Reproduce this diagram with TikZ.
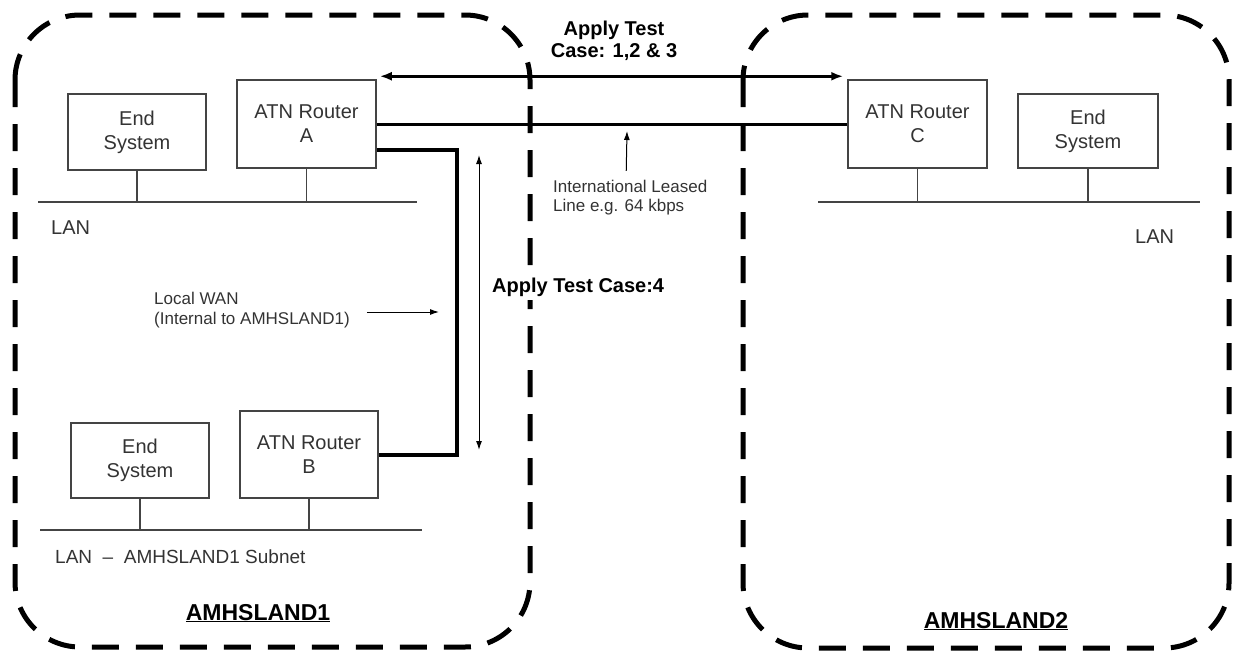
\documentclass[tikz,border=0pt]{standalone}
\usepackage{fontspec}
\setmainfont{Liberation Sans}
\usetikzlibrary{arrows.meta}
\definecolor{txtgray}{HTML}{333333}
\definecolor{boxgray}{HTML}{444444}
\begin{document}
\begin{tikzpicture}[x=1pt,y=-1pt,
  box/.style={draw=boxgray, line width=1.5pt, text=txtgray, font=\fontsize{20}{24}\selectfont, align=center, inner sep=0pt},
  region/.style={draw=black, line width=5pt, dash pattern=on 27pt off 17pt, rounded corners=65pt},
  lan/.style={draw=boxgray, line width=1.5pt},
  lbl/.style={text=txtgray, align=left, inner sep=0pt},
  blbl/.style={text=black, align=center, inner sep=0pt, font=\fontsize{20}{22}\selectfont\bfseries},
  dblarr/.style={draw=black, line width=3pt, {Latex[length=12pt,width=9pt]}-{Latex[length=12pt,width=9pt]}},
  thinarr/.style={draw=black, line width=1pt, -{Latex[length=9pt,width=6pt]}},
  thindbl/.style={draw=black, line width=1pt, {Latex[length=9pt,width=6pt]}-{Latex[length=9pt,width=6pt]}},
  wan/.style={draw=black, line width=4pt, line join=miter},
  leased/.style={draw=black, line width=3pt}
]
\useasboundingbox (0,0) rectangle (1233,656);
% regions
\draw[region] (15,15) rectangle (530,647);
\draw[region] (743,15) rectangle (1229,648);

% boxes
\node[box, minimum width=138pt, minimum height=76pt] (esA) at (137,132) {End\\System};
\node[box, minimum width=139pt, minimum height=88pt] (rA) at (306.5,124) {ATN Router\\A};
\node[box, minimum width=138pt, minimum height=75pt] (esB) at (140,460.5) {End\\System};
\node[box, minimum width=138pt, minimum height=87pt] (rB) at (309,454.5) {ATN Router\\B};
\node[box, minimum width=139pt, minimum height=88pt] (rC) at (917.5,124) {ATN Router\\C};
\node[box, minimum width=140pt, minimum height=74pt] (esC) at (1088,131) {End\\System};

% LANs
\coordinate (lanA1) at (38,202); \coordinate (lanA2) at (417,202);
\coordinate (lanB1) at (40,530); \coordinate (lanB2) at (422,530);
\coordinate (lanC1) at (818,202); \coordinate (lanC2) at (1200,202);
\draw[lan] (lanA1) -- (lanA2);
\draw[lan] (lanB1) -- (lanB2);
\draw[lan] (lanC1) -- (lanC2);
\draw[lan] (esA.south) -- (esA.south |- lanA1);
\draw[lan] (rA.south) -- (rA.south |- lanA1);
\draw[lan] (esB.south) -- (esB.south |- lanB1);
\draw[lan] (rB.south) -- (rB.south |- lanB1);
\draw[lan] (rC.south) -- (rC.south |- lanC1);
\draw[lan] (esC.south) -- (esC.south |- lanC1);

% links
\draw[dblarr] ([shift={(3,-3)}]rA.north east) -- ([shift={(-4,-3)}]rC.north west);
\draw[leased] (rA.east) -- (rC.west);
\coordinate (wanx) at (457,300);
\draw[wan] ([shift={(0,26)}]rA.east) -| (wanx) |- (rB.east);

% labels
\node[blbl] (t123) at (614,41) {Apply Test\\Case: 1,2 \& 3};
\node[lbl, font=\fontsize{17}{19}\selectfont, anchor=west] (il) at (553,197.5) {International Leased\\Line e.g. 64 kbps};
\coordinate (ilarr) at (627,131);
\draw[thinarr] ([shift={(-4,-9)}]il.north) -- (ilarr);

\node[blbl, anchor=west, fill=white, inner sep=4pt] (t4) at (488,287) {Apply Test Case:4};
\coordinate (a4t) at (479,155); \coordinate (a4b) at (479,450);
\draw[thindbl] (a4t) -- (a4b);

\node[lbl, font=\fontsize{17}{20}\selectfont, anchor=west] (lw) at (154,310) {Local WAN\\(Internal to AMHSLAND1)};
\coordinate (lwend) at (439,312);
\draw[thinarr] ([shift={(17,2)}]lw.east) -- (lwend);

\node[lbl, font=\fontsize{20}{22}\selectfont, anchor=west] (lanAl) at (51,228) {LAN};
\node[lbl, font=\fontsize{20}{22}\selectfont, anchor=west] (lanCl) at (1135,237) {LAN};
\node[lbl, font=\fontsize{19}{22}\selectfont, anchor=west] (lanBl) at (55,557) {LAN\ \ –\ \ AMHSLAND1 Subnet};

\node[inner sep=0pt, anchor=base, font=\fontsize{23}{26}\selectfont\bfseries] (am1) at (258,620) {\underline{AMHSLAND1}};
\node[inner sep=0pt, anchor=base, font=\fontsize{23}{26}\selectfont\bfseries] (am2) at (996,628) {\underline{AMHSLAND2}};
\end{tikzpicture}
\end{document}
